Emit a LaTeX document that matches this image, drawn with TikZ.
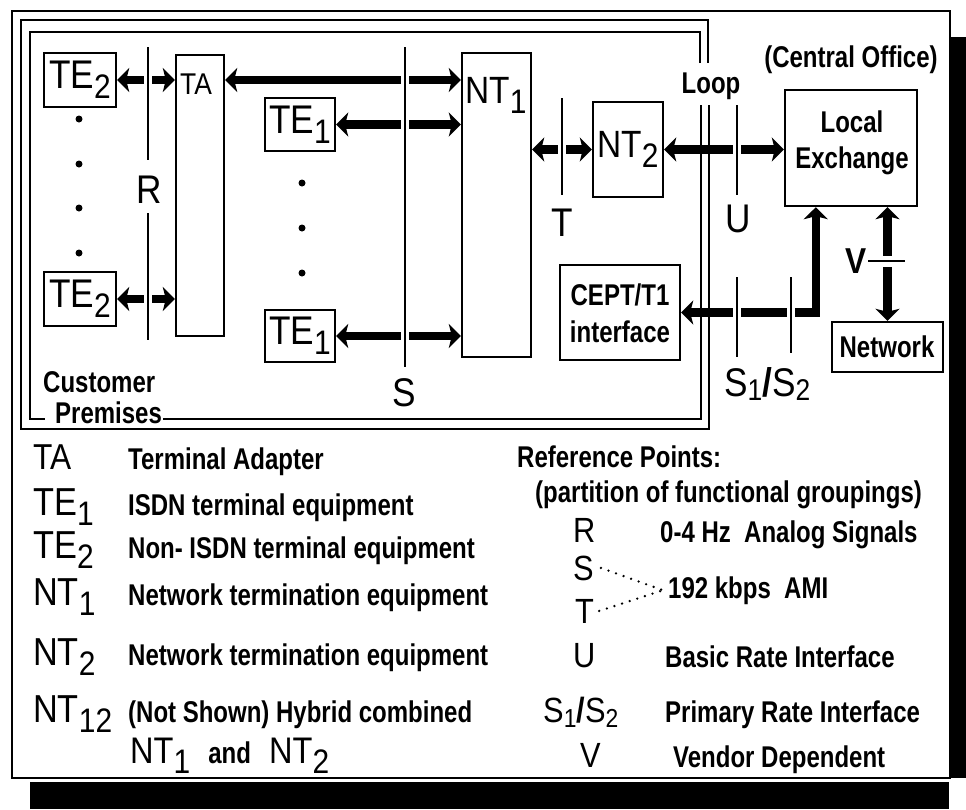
\documentclass[tikz,border=0pt]{standalone}
\usepackage{fontspec}
\setmainfont{Liberation Sans}
\newfontfamily\rfam[FakeStretch=0.88]{Liberation Sans}
\newfontfamily\bcfam[FakeStretch=0.8]{Liberation Sans}
\usetikzlibrary{arrows.meta,calc}
\newcommand\btx{\bcfam\bfseries\fontsize{30}{32}\selectfont}
\newcommand\labf[1]{\rfam\fontsize{#1}{#1}\selectfont}
\newcommand\sbs[1]{\raisebox{-10pt}{\fontsize{34}{34}\selectfont #1}}
\newcommand\ssb[1]{\raisebox{-5pt}{\fontsize{26}{26}\selectfont #1}}
\begin{document}
\begin{tikzpicture}[x=1pt,y=-1pt,
  every node/.style={inner sep=0pt},
  box/.style={draw, line width=2.4pt, inner sep=0pt},
  frm/.style={line width=2pt},
  biar/.style={line width=8.5pt, {Stealth[length=12pt,width=24pt,inset=3pt]}-{Stealth[length=12pt,width=24pt,inset=3pt]}},
  refl/.style={line width=2pt, preaction={draw=white, line width=8pt}},
  dotline/.style={line width=2.6pt, line cap=round, dash pattern=on 0pt off 8pt},
  dotm/.style={fill, circle, minimum size=7pt}]
\useasboundingbox (0,0) rectangle (966,809);
% shadow
\fill (951,37) rectangle (966,778);
\fill (30,782) rectangle (949,809);
% frames
\draw[frm] (12,11) rectangle (950,778);
\draw[frm] (708,63) -- (708,20) -- (21,20) -- (21,429) -- (709,429) -- (709,105);
\draw[frm] (700,63) -- (700,32) -- (30,32) -- (30,419) -- (45,419);
\draw[frm] (163,419) -- (701,419) -- (701,105);
% boxes
\node[box, minimum width=72pt, minimum height=54pt] (te2a) at (80,80) {\labf{40}TE\sbs{2}};
\node[box, minimum width=72pt, minimum height=54pt] (te2b) at (80,299) {\labf{40}TE\sbs{2}};
\node[box, minimum width=48pt, minimum height=281pt] (ta) at (200,195.5) {};
\node[box, minimum width=70pt, minimum height=53pt] (te1a) at (300,124.5) {\labf{40}TE\sbs{1}};
\node[box, minimum width=70pt, minimum height=52pt] (te1b) at (300,336) {\labf{40}TE\sbs{1}};
\node[box, minimum width=69pt, minimum height=304pt] (nt1) at (496.5,205) {};
\node[box, minimum width=70pt, minimum height=95pt] (nt2) at (628,149.5) {\labf{38}NT\sbs{2}};
\node[box, minimum width=120pt, minimum height=95pt] (cept) at (620,312.5) {};
\node[box, minimum width=132pt, minimum height=116pt] (le) at (851,148) {};
\node[box, minimum width=111pt, minimum height=50pt] (net) at (887.5,347) {};
% box texts
\node[anchor=base west] (talbl) at (180,94) {\labf{30}TA};
\node[anchor=base west] (nt1lbl) at (465,103) {\labf{38}NT\sbs{1}};
\node[anchor=base] (ceptA) at (620,305) {\btx CEPT/T1};
\node[anchor=base] (ceptB) at (620,342) {\btx interface};
\node[anchor=base] (local) at (852,132) {\btx Local};
\node[anchor=base] (exch) at (852,168) {\btx Exchange};
\node[anchor=base] (netl) at (887,357) {\btx Network};
% dots
\node[dotm] (d1) at (79,119) {};
\node[dotm] (d2) at (79,164) {};
\node[dotm] (d3) at (79,208) {};
\node[dotm] (d4) at (79,253) {};
\node[dotm] (d5) at (302,183) {};
\node[dotm] (d6) at (302,228) {};
\node[dotm] (d7) at (302,273) {};
% arrows
\draw[biar] (te2a.east) -- (ta.west |- te2a.east);
\draw[biar] (te2b.east) -- (ta.west |- te2b.east);
\draw[biar] (ta.east |- te2a.east) -- (nt1.west |- te2a.east);
\draw[biar] (te1a.east) -- (nt1.west |- te1a.east);
\draw[biar] (te1b.east) -- (nt1.west |- te1b.east);
\draw[biar] (nt1.east |- nt2.west) -- (nt2.west);
\draw[biar] (nt2.east) -- (le.west |- nt2.east);
\coordinate (leA) at ($(le.south west)+(32,0)$);
\draw[biar] (cept.east) -- (cept.east -| leA) -- (leA);
\draw[biar] (le.south -| net.north) -- (net.north);
% reference lines
\draw[refl] (148,47) -- (148,160);
\draw[refl] (148,213) -- (148,340);
\draw[refl] (405,47) -- (405,367);
\draw[refl] (562,98) -- (562,195);
\draw[refl] (737,105) -- (737,195);
\draw[refl] (737,277) -- (737,357);
\draw[refl] (791,277) -- (791,353);
\draw[line width=2pt, preaction={draw=white, line width=11pt}] (868,261) -- (905,261);
% diagram labels
\node (lblR) at (149,190) {\labf{40}R};
\node (lblS) at (404,393) {\labf{40}S};
\node (lblT) at (562,223) {\labf{40}T};
\node (lblU) at (738,219) {\labf{40}U};
\node (lblV) at (856,261) {\labf{36}\bfseries V};
\node[anchor=base west] (lblS12) at (724,396) {\labf{40}S\raisebox{-4pt}{\fontsize{30}{30}\selectfont 1}\textbf{/}S\raisebox{-4pt}{\fontsize{30}{30}\selectfont 2}};
\node[anchor=base] (loop) at (711,93) {\btx Loop};
\node[anchor=base] (co) at (851,67) {\btx (Central Office)};
\node[anchor=base west] (cust) at (43,392) {\btx Customer};
\node[anchor=base west] (prem) at (55,423) {\btx Premises};
% legend left
\node[anchor=base west] (lTA) at (33,469) {\labf{36}TA};
\node[anchor=base west] (dTA) at (128,469) {\btx Terminal Adapter};
\node[anchor=base west] (lTE1) at (33,515) {\labf{39}TE\sbs{1}};
\node[anchor=base west] (dTE1) at (128,515) {\btx ISDN terminal equipment};
\node[anchor=base west] (lTE2) at (33,558) {\labf{39}TE\sbs{2}};
\node[anchor=base west] (dTE2) at (128,558) {\btx Non- ISDN terminal equipment};
\node[anchor=base west] (lNT1) at (33,605) {\labf{39}NT\sbs{1}};
\node[anchor=base west] (dNT1) at (128,605) {\btx Network termination equipment};
\node[anchor=base west] (lNT2) at (33,665) {\labf{39}NT\sbs{2}};
\node[anchor=base west] (dNT2) at (128,665) {\btx Network termination equipment};
\node[anchor=base west] (lNT12) at (33,722) {\labf{39}NT\sbs{12}};
\node[anchor=base west] (dNT12) at (128,722) {\btx (Not Shown) Hybrid combined};
\node[anchor=base west] (dNTand) at (130,763) {\labf{37}NT\sbs{1}\ \ {\btx and}\ \ NT\sbs{2}};
% legend right
\node[anchor=base west] (rp) at (517,467) {\btx Reference Points:};
\node[anchor=base west] (pfg) at (535,502) {\btx (partition of functional groupings)};
\node[anchor=base west] (lgR) at (573,542) {\labf{35}R};
\node[anchor=base west] (dR) at (660,542) {\btx 0-4 Hz\ \ Analog Signals};
\node[anchor=base west] (lgS) at (573,580) {\labf{35}S};
\node[anchor=base west] (d192) at (668,598) {\btx 192 kbps\ \ AMI};
\node[anchor=base west] (lgT) at (575,623) {\labf{35}T};
\node[anchor=base west] (lgU) at (573,667) {\labf{35}U};
\node[anchor=base west] (dU) at (665,667) {\btx Basic Rate Interface};
\node[anchor=base west] (lgS12) at (543,722) {\labf{35}S\ssb{1}\textbf{/}S\ssb{2}};
\node[anchor=base west] (dS12) at (665,722) {\btx Primary Rate Interface};
\node[anchor=base west] (lgV) at (580,767) {\labf{35}V};
\node[anchor=base west] (dV) at (673,767) {\btx Vendor Dependent};
\draw[dotline] ($(lgS.east)+(7,0)$) -- ($(d192.west)+(-5,0)$);
\draw[dotline] ($(lgT.east)+(5,0)$) -- ($(d192.west)+(-5,0)$);
\end{tikzpicture}
\end{document}
